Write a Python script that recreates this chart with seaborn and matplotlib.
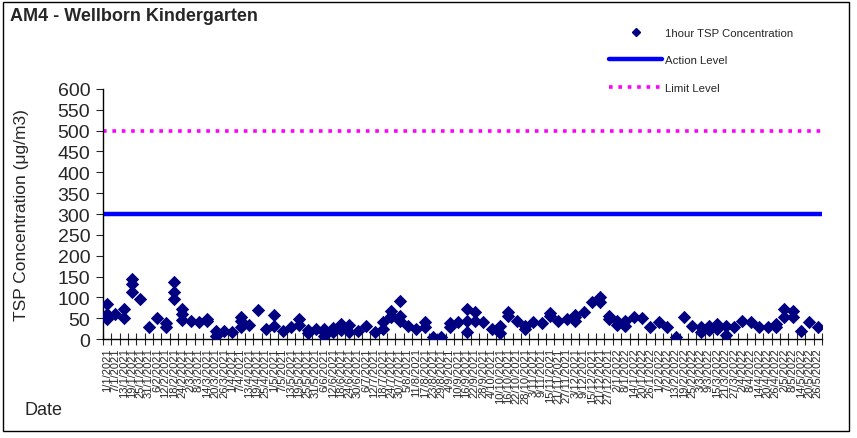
import numpy as np
import pandas as pd
import matplotlib
matplotlib.use("Agg")
import matplotlib.pyplot as plt
import seaborn as sns
from matplotlib.lines import Line2D
from matplotlib.patches import Rectangle

# === DATA
dates = [
    "1/1/2021", "7/1/2021", "13/1/2021", "19/1/2021", "25/1/2021", "31/1/2021",
    "6/2/2021", "12/2/2021", "18/2/2021", "24/2/2021",
    "2/3/2021", "8/3/2021", "14/3/2021", "20/3/2021", "26/3/2021",
    "1/4/2021", "7/4/2021", "13/4/2021", "19/4/2021", "25/4/2021",
    "1/5/2021", "7/5/2021", "13/5/2021", "19/5/2021", "25/5/2021", "31/5/2021",
    "6/6/2021", "12/6/2021", "18/6/2021", "24/6/2021", "30/6/2021",
    "6/7/2021", "12/7/2021", "18/7/2021", "24/7/2021", "30/7/2021",
    "5/8/2021", "11/8/2021", "17/8/2021", "23/8/2021", "29/8/2021",
    "4/9/2021", "10/9/2021", "16/9/2021", "22/9/2021", "28/9/2021",
    "4/10/2021", "10/10/2021", "16/10/2021", "22/10/2021", "28/10/2021",
    "3/11/2021", "9/11/2021", "15/11/2021", "21/11/2021", "27/11/2021",
    "3/12/2021", "9/12/2021", "15/12/2021", "21/12/2021", "27/12/2021",
    "2/1/2022", "8/1/2022", "14/1/2022", "20/1/2022", "26/1/2022",
    "1/2/2022", "7/2/2022", "13/2/2022", "19/2/2022", "25/2/2022",
    "3/3/2022", "9/3/2022", "15/3/2022", "21/3/2022", "27/3/2022",
    "2/4/2022", "8/4/2022", "14/4/2022", "20/4/2022", "26/4/2022",
    "2/5/2022", "8/5/2022", "14/5/2022", "20/5/2022", "26/5/2022",
]

# 1-hour TSP results (ug/m3), one list per monitoring day
tsp_1hr = [
    [84, 60, 48], [60], [72, 50], [144, 132, 112], [96], [28],
    [50], [38, 30], [136, 114, 96], [72, 60, 46],
    [44], [40], [48, 44], [20, 8], [20],
    [16], [54, 44, 28], [34], [70], [24],
    [58, 32], [20], [28], [48, 34], [22, 14], [24],
    [24, 16, 8], [26, 16], [36, 22], [34, 16], [20],
    [32], [18], [40, 24], [68, 56, 52], [92, 56, 44],
    [32], [24], [40, 28], [6], [6],
    [38, 28], [42], [72, 44, 16], [64, 44], [40],
    [24], [32, 14], [64, 56], [44], [32, 24],
    [42], [38], [62, 56], [44], [48],
    [58, 52, 44], [64], [88], [100, 88], [56, 48],
    [44, 34], [44, 32], [52], [50], [28],
    [40], [28], [6], [54], [32],
    [28, 18], [32, 22], [36, 24], [32, 10], [28],
    [44], [42], [28], [28], [36, 28],
    [72, 52], [68, 52], [20], [40], [28],
]

action_level = 300
limit_level = 500

rows = [(d, v) for d, vals in zip(dates, tsp_1hr) for v in vals]
df = pd.DataFrame(rows, columns=["Date", "TSP"])

# === STYLE
sns.set_style("ticks")
plt.rcParams["font.family"] = ["Liberation Sans", "DejaVu Sans"]

fig = plt.figure(figsize=(8.57, 4.39), dpi=100)
ax = fig.add_axes([0.120, 0.2255, 0.839, 0.5695])

sns.stripplot(data=df, x="Date", y="TSP", order=dates, jitter=False,
              marker="D", color="#000080", size=6.8, linewidth=0, ax=ax, zorder=3)

ax.axhline(action_level, color="#0000FF", lw=3.2, solid_capstyle="butt", zorder=2)
ax.axhline(limit_level, color="#FF00FF", lw=2.6, ls=(0, (1, 1.6)), zorder=2)

ax.set_ylim(0, 600)
ax.set_yticks(np.arange(0, 601, 50))
ax.set_xlim(-0.5, len(dates) - 0.5)
ax.set_xticks(np.arange(len(dates)))
ax.set_xticklabels(dates, rotation=90, fontsize=8)
ax.set_xticks(np.arange(-0.5, len(dates), 1), minor=True)
ax.tick_params(axis="x", which="major", length=0, pad=6)
ax.tick_params(axis="x", which="minor", direction="inout", length=8, width=0.8)
ax.tick_params(axis="y", direction="out", length=5, width=0.8, labelsize=14, pad=4)

for s in ["top", "right"]:
    ax.spines[s].set_visible(False)
for s in ["left", "bottom"]:
    ax.spines[s].set_color("black")
    ax.spines[s].set_linewidth(1)

ax.set_xlabel("")
ax.set_ylabel("TSP Concentration (\u03bcg/m3)", fontsize=12.5, va="center")
ax.yaxis.set_label_coords(-0.113, 0.5)

fig.text(0.012, 0.962, "AM4 - Wellborn Kindergarten", fontsize=13,
         fontweight="bold", va="center", ha="left")
fig.text(0.029, 0.065, "Date", fontsize=13, va="center", ha="left")

handles = [
    Line2D([], [], marker="D", color="#000080", ls="none", markersize=4.5),
    Line2D([], [], color="#0000FF", lw=3.2),
    Line2D([], [], color="#FF00FF", lw=2.6, ls=(0, (1, 1.6))),
]
labels = ["1hour TSP Concentration", "Action Level", "Limit Level"]
fig.legend(handles, labels, loc="upper left", bbox_to_anchor=(0.711, 0.935),
           frameon=False, fontsize=8.2, handlelength=4.6, handletextpad=0.3,
           labelspacing=1.55, borderpad=0, borderaxespad=0)

fig.patches.append(Rectangle((0.0035, 0.016), 0.987, 0.977, transform=fig.transFigure,
                             fill=False, lw=1, ec="black"))

fig.savefig("out.png", dpi=100)
